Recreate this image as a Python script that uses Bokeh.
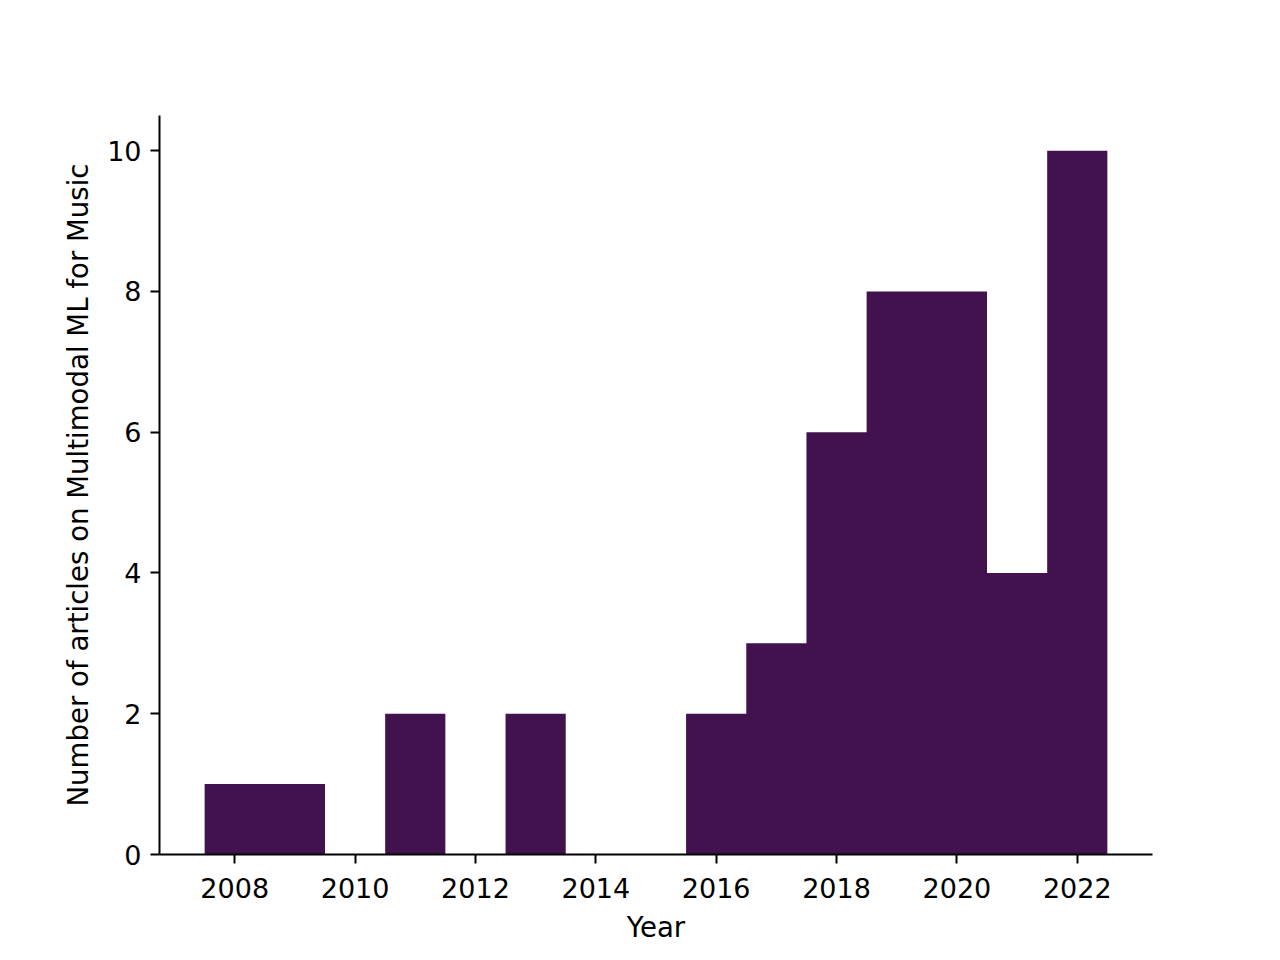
from bokeh.plotting import figure
from bokeh.models import Range1d, FixedTicker
from bokeh.embed import file_html
from bokeh.resources import INLINE

years = [2008, 2009, 2010, 2011, 2012, 2013, 2014, 2015, 2016, 2017, 2018, 2019, 2020, 2021, 2022]
counts = [1, 1, 0, 2, 0, 2, 0, 0, 2, 3, 6, 8, 8, 4, 10]
x_ticks = [2008, 2010, 2012, 2014, 2016, 2018, 2020, 2022]
y_ticks = [0, 2, 4, 6, 8, 10]

# bin edges (width-1 bins centred on each year) for a seamless step area
edges = [y - 0.5 for y in years] + [years[-1] + 0.5]
heights = counts + [counts[-1]]

p = figure(
    output_backend="svg", toolbar_location=None,
    frame_width=993, frame_height=739,
    min_border_left=159, min_border_right=112,
    min_border_top=115, min_border_bottom=90,
    x_range=Range1d(2006.75, 2023.25), y_range=Range1d(0, 10.5),
    background_fill_color="white", border_fill_color="white",
)
p.outline_line_color = None
p.grid.visible = False

p.varea_step(x=edges, y1=[0] * len(edges), y2=heights, step_mode="after",
             fill_color="#42124f")

font = "DejaVu Sans"
for ax in (p.xaxis[0], p.yaxis[0]):
    ax.axis_line_width = 2
    ax.axis_line_color = "black"
    ax.major_tick_line_width = 2
    ax.major_tick_line_color = "black"
    ax.major_tick_out = 9
    ax.major_tick_in = 0
    ax.minor_tick_line_color = None
    ax.major_label_text_font = font
    ax.major_label_text_font_size = "27px"
    ax.major_label_text_color = "black"
    ax.axis_label_text_font = font
    ax.axis_label_text_font_size = "27.6px"
    ax.axis_label_text_font_style = "normal"
    ax.axis_label_text_color = "black"

p.xaxis[0].ticker = FixedTicker(ticks=x_ticks)
p.yaxis[0].ticker = FixedTicker(ticks=y_ticks)
p.xaxis[0].axis_label = "Year"
p.yaxis[0].axis_label = "Number of articles on Multimodal ML for Music"
p.xaxis[0].major_label_standoff = 14
p.yaxis[0].major_label_standoff = 9
p.xaxis[0].axis_label_standoff = 10
p.yaxis[0].axis_label_standoff = 9

open("out.html", "w").write(file_html(p, INLINE))
